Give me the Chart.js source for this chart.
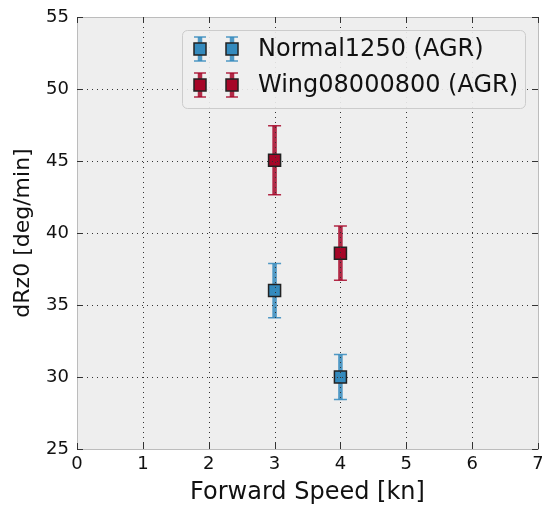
<!DOCTYPE html>
<html>
<head>
<meta charset="utf-8">
<script src="https://cdn.jsdelivr.net/npm/chart.js@4/dist/chart.umd.min.js"></script>
<style>
  html, body { margin: 0; padding: 0; background: #fff; }
  #wrap { width: 542px; height: 514px; }
</style>
</head>
<body>
<div id="wrap"><canvas id="c" width="542" height="514"></canvas></div>
<script>
const seriesNames = ['Normal1250 (AGR)', 'Wing08000800 (AGR)'];
const seriesColors = ['#348ABD', '#A60628'];
const speeds = [3, 4];
const normalValues = [36.0, 30.0];
const normalErrors = [1.88, 1.56];
const wingValues = [45.05, 38.6];
const wingErrors = [2.4, 1.88];
const xTicks = [0, 1, 2, 3, 4, 5, 6, 7];
const yTicks = [25, 30, 35, 40, 45, 50, 55];

const FONT = 'DejaVu Sans';

const errorBars = {
  id: 'errorBars',
  beforeDatasetsDraw(chart) {
    const { ctx, scales: { x, y } } = chart;
    ctx.save();
    chart.data.datasets.forEach((ds) => {
      ds.data.forEach((pt) => {
        const px = x.getPixelForValue(pt.x);
        const top = y.getPixelForValue(pt.y + pt.err);
        const bot = y.getPixelForValue(pt.y - pt.err);
        ctx.globalAlpha = 0.85;
        ctx.strokeStyle = ds.errColor;
        ctx.lineWidth = 4.5;
        ctx.beginPath();
        ctx.moveTo(px, top);
        ctx.lineTo(px, bot);
        ctx.stroke();
        ctx.lineWidth = 1.5;
        ctx.beginPath();
        ctx.moveTo(px - 6.5, top);
        ctx.lineTo(px + 6.5, top);
        ctx.moveTo(px - 6.5, bot);
        ctx.lineTo(px + 6.5, bot);
        ctx.stroke();
      });
    });
    ctx.restore();
  },
};

// grid, frame and inner ticks, drawn on top like matplotlib does here
const frame = {
  id: 'frame',
  afterDatasetsDraw(chart) {
    const { ctx, chartArea: { left, top, right, bottom }, scales: { x, y } } = chart;
    ctx.save();
    ctx.strokeStyle = '#333';
    ctx.lineWidth = 1;
    ctx.setLineDash([1, 4]);
    xTicks.slice(1, -1).forEach((v) => {
      const px = Math.round(x.getPixelForValue(v)) + 0.5;
      ctx.beginPath();
      ctx.moveTo(px, top);
      ctx.lineTo(px, bottom);
      ctx.stroke();
    });
    yTicks.slice(1, -1).forEach((v) => {
      const py = Math.round(y.getPixelForValue(v)) + 0.5;
      ctx.beginPath();
      ctx.moveTo(left, py);
      ctx.lineTo(right, py);
      ctx.stroke();
    });
    ctx.setLineDash([]);
    ctx.strokeStyle = '#bcbcbc';
    ctx.strokeRect(Math.round(left) + 0.5, Math.round(top) + 0.5, Math.round(right - left), Math.round(bottom - top));
    ctx.strokeStyle = '#333';
    ctx.beginPath();
    xTicks.forEach((v) => {
      const px = Math.round(x.getPixelForValue(v)) + 0.5;
      ctx.moveTo(px, bottom);
      ctx.lineTo(px, bottom - 6);
      ctx.moveTo(px, top);
      ctx.lineTo(px, top + 6);
    });
    yTicks.forEach((v) => {
      const py = Math.round(y.getPixelForValue(v)) + 0.5;
      ctx.moveTo(left, py);
      ctx.lineTo(left + 6, py);
      ctx.moveTo(right, py);
      ctx.lineTo(right - 6, py);
    });
    ctx.stroke();
    ctx.restore();
  },
  afterDraw(chart) {
    const { ctx } = chart;
    ctx.save();
    // legend box
    const bx = 182.5, by = 30.5, bw = 343, bh = 78;
    ctx.fillStyle = 'rgba(238,238,238,0.9)';
    ctx.strokeStyle = '#cccccc';
    ctx.lineWidth = 1;
    ctx.beginPath();
    ctx.roundRect(bx, by, bw, bh, 5);
    ctx.fill();
    ctx.stroke();
    chart.data.datasets.forEach((ds, i) => {
      const cy = 49 + i * 36;
      [200, 232].forEach((mx) => {
        ctx.globalAlpha = 0.85;
        ctx.strokeStyle = ds.errColor;
        ctx.lineWidth = 4.5;
        ctx.beginPath();
        ctx.moveTo(mx, cy - 12);
        ctx.lineTo(mx, cy + 12);
        ctx.stroke();
        ctx.lineWidth = 1.5;
        ctx.beginPath();
        ctx.moveTo(mx - 6, cy - 12);
        ctx.lineTo(mx + 6, cy - 12);
        ctx.moveTo(mx - 6, cy + 12);
        ctx.lineTo(mx + 6, cy + 12);
        ctx.stroke();
        ctx.globalAlpha = 1;
        ctx.fillStyle = ds.backgroundColor;
        ctx.strokeStyle = '#222';
        ctx.lineWidth = 1.5;
        ctx.fillRect(mx - 6, cy - 6, 12, 12);
        ctx.strokeRect(mx - 6, cy - 6, 12, 12);
      });
      ctx.fillStyle = '#111';
      ctx.font = '24px "' + FONT + '"';
      ctx.textBaseline = 'middle';
      ctx.textAlign = 'left';
      ctx.fillText(ds.label, 258, cy + 1);
    });
    ctx.restore();
  },
};

const makeData = (values, errors) => speeds.map((s, i) => ({ x: s, y: values[i], err: errors[i] }));

new Chart(document.getElementById('c'), {
  type: 'scatter',
  data: {
    datasets: [
      {
        label: seriesNames[0],
        data: makeData(normalValues, normalErrors),
        backgroundColor: seriesColors[0],
        errColor: seriesColors[0],
      },
      {
        label: seriesNames[1],
        data: makeData(wingValues, wingErrors),
        backgroundColor: seriesColors[1],
        errColor: seriesColors[1],
      },
    ],
  },
  plugins: [
    {
      id: 'plotBg',
      beforeDraw(chart) {
        const { ctx, chartArea: { left, top, width, height } } = chart;
        ctx.save();
        ctx.fillStyle = '#eeeeee';
        ctx.fillRect(left, top, width, height);
        ctx.restore();
      },
    },
    errorBars,
    frame,
  ],
  options: {
    responsive: false,
    animation: false,
    layout: { autoPadding: false, padding: { top: 17, right: 4, left: 0, bottom: 0 } },
    elements: {
      point: {
        pointStyle: 'rect',
        radius: 8.5,
        borderColor: '#222',
        borderWidth: 1.5,
      },
    },
    plugins: {
      legend: { display: false },
      tooltip: { enabled: false },
    },
    scales: {
      x: {
        type: 'linear',
        min: 0,
        max: 7,
        afterFit(scale) {
          scale.height = 65;
          scale.paddingLeft = 0;
          scale.paddingRight = 0;
        },
        afterBuildTicks(scale) { scale.ticks = xTicks.map((v) => ({ value: v })); },
        grid: { display: false, drawTicks: false },
        border: { display: false },
        ticks: { padding: 5, color: '#111', font: { family: FONT, size: 18 }, maxRotation: 0 },
        title: {
          display: true,
          text: 'Forward Speed [kn]',
          color: '#111',
          font: { family: FONT, size: 24 },
          padding: { top: 0, bottom: 7 },
        },
      },
      y: {
        type: 'linear',
        min: 25,
        max: 55,
        afterFit(scale) {
          scale.width = 77;
          scale.paddingTop = 0;
          scale.paddingBottom = 0;
        },
        afterBuildTicks(scale) { scale.ticks = yTicks.map((v) => ({ value: v })); },
        grid: { display: false, drawTicks: false },
        border: { display: false },
        ticks: { padding: 8, color: '#111', font: { family: FONT, size: 18 } },
        title: {
          display: true,
          text: 'dRz0 [deg/min]',
          color: '#111',
          font: { family: FONT, size: 22 },
          padding: { top: 10, bottom: 0 },
        },
      },
    },
  },
});
</script>
</body>
</html>
